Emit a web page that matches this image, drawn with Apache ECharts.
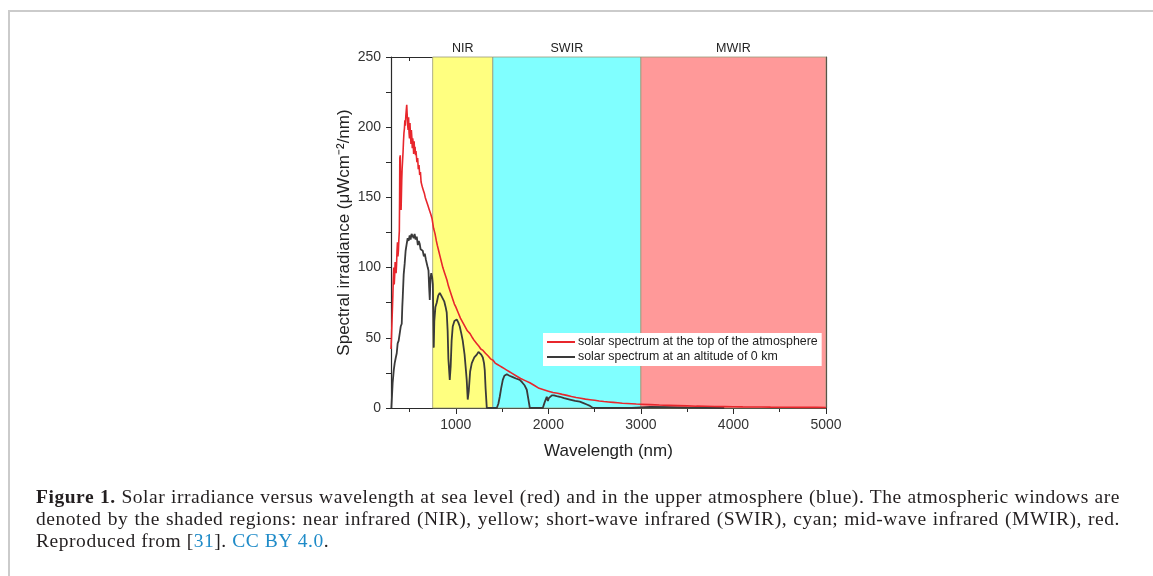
<!DOCTYPE html>
<html>
<head>
<meta charset="utf-8">
<script src="https://cdn.jsdelivr.net/npm/echarts@6/dist/echarts.min.js"></script>
<style>
  html, body { margin: 0; padding: 0; background: #fff; }
  #page { position: relative; width: 1153px; height: 576px; overflow: hidden; }
  #frame { position: absolute; left: 8px; top: 10px; right: -10px; bottom: -10px;
           border-left: 2px solid #cbcbcb; border-top: 2px solid #cbcbcb; }
  #chart { position: absolute; left: 0; top: 0; width: 1153px; height: 576px; }
  #caption { position: absolute; left: 36px; top: 486px; width: 1084px;
             font-family: "Liberation Serif", "DejaVu Serif", serif; font-size: 19.5px;
             letter-spacing: 0.55px; line-height: 22px; color: #231f20; }
  #caption .j { text-align: justify; text-align-last: justify; white-space: nowrap; }
  #caption a { color: #1f8bc8; text-decoration: none; }
</style>
</head>
<body>
<div id="page">
  <div id="frame"></div>
  <div id="chart"></div>
  <div id="caption">
    <div class="j"><b>Figure 1.</b> Solar irradiance versus wavelength at sea level (red) and in the upper atmosphere (blue). The atmospheric windows are</div>
    <div class="j">denoted by the shaded regions: near infrared (NIR), yellow; short-wave infrared (SWIR), cyan; mid-wave infrared (MWIR), red.</div>
    <div>Reproduced from [<a>31</a>]. <a>CC BY 4.0</a>.</div>
  </div>
</div>
<script>
// 波段名称与边界 (nm)
const bandNames = ["NIR", "SWIR", "MWIR"];
const bandEdges = [750, 1400, 3000, 5000];

const seriesNames = [
  "solar spectrum at the top of the atmosphere",
  "solar spectrum at an altitude of 0 km",
];

// 大气层顶太阳光谱 [波长 nm, 辐照度]
const toaSpectrum = [
  [300, 42], [305, 50], [310, 60], [315, 70], [320, 80], [325, 92], [330, 100],
  [335, 88], [340, 95], [345, 104], [350, 105], [355, 96], [360, 102], [365, 112],
  [370, 118], [375, 108], [380, 112], [385, 120], [390, 126], [393, 150], [395, 178],
  [400, 180], [403, 160], [405, 148], [409, 141], [412, 142], [416, 162], [420, 170],
  [425, 176], [430, 182], [435, 190], [440, 196], [445, 199], [450, 205], [455, 201],
  [460, 208], [465, 212], [470, 216], [474, 210], [478, 209], [482, 200], [485, 198],
  [490, 207], [495, 196], [500, 192], [505, 203], [510, 195], [516, 188], [520, 198],
  [525, 193], [530, 185], [535, 192], [540, 188], [545, 181], [550, 190], [555, 182],
  [560, 186], [565, 180], [570, 183], [580, 175], [588, 178], [595, 170], [603, 173],
  [610, 166], [618, 168], [625, 161], [632, 162], [640, 157], [650, 155], [660, 153],
  [670, 150], [680, 149], [690, 146], [700, 144], [710, 142], [720, 140], [730, 138],
  [743, 135], [760, 128], [776, 124], [790, 119], [800, 116], [815, 112], [830, 108],
  [845, 104], [860, 100], [870, 99], [880, 96], [890, 94], [905, 91], [920, 87],
  [940, 83], [955, 80], [970, 77], [985, 74], [1000, 72], [1025, 68], [1050, 64],
  [1075, 61], [1100, 58], [1125, 55], [1154, 53], [1180, 50], [1200, 48], [1225, 46],
  [1250, 44], [1270, 42], [1294, 41], [1320, 39], [1350, 37], [1375, 35], [1403, 34],
  [1425, 32], [1450, 31], [1475, 30], [1500, 29], [1525, 28], [1550, 27], [1575, 26],
  [1600, 25], [1650, 23], [1700, 21], [1750, 19.5], [1800, 18], [1850, 16], [1900, 14],
  [1950, 13], [2000, 12], [2050, 11], [2100, 10.5], [2150, 9.7], [2200, 9], [2250, 8.2],
  [2300, 7.5], [2350, 6.9], [2400, 6.3], [2450, 5.9], [2500, 5.5], [2550, 5], [2600, 4.6],
  [2650, 4.3], [2700, 4], [2750, 3.7], [2800, 3.4], [2850, 3.2], [2900, 3], [2950, 2.8],
  [3000, 2.7], [3100, 2.4], [3200, 2.1], [3300, 1.9], [3400, 1.7], [3500, 1.5],
  [3600, 1.3], [3700, 1.2], [3800, 1.1], [3900, 1], [4000, 0.9], [4100, 0.82],
  [4200, 0.75], [4300, 0.68], [4400, 0.6], [4500, 0.55], [4600, 0.5], [4700, 0.47],
  [4800, 0.45], [4900, 0.42], [5000, 0.4],
];

// 海平面 (0 km) 太阳光谱 [波长 nm, 辐照度]
const seaLevelSpectrum = [
  [304, 0], [318, 18], [330, 27], [340, 32], [352, 36], [362, 39], [372, 46],
  [383, 48], [394, 53], [405, 58], [416, 60], [422, 72], [427, 79], [437, 95],
  [448, 103], [458, 112], [470, 117], [480, 121], [490, 119], [502, 123], [512, 120],
  [522, 124], [535, 125], [545, 121], [555, 124], [566, 120], [578, 122], [590, 116],
  [600, 119], [610, 117], [620, 113], [632, 114], [643, 112], [655, 108], [665, 110],
  [676, 106], [686, 105], [697, 100], [705, 98], [712, 86], [719, 77], [726, 92],
  [735, 96], [745, 93], [752, 88], [756, 70], [762, 43], [768, 62], [780, 72],
  [794, 75], [810, 80], [827, 82], [843, 80], [859, 79], [875, 76], [890, 72],
  [902, 68], [912, 55], [920, 35], [935, 20], [945, 30], [955, 48], [967, 58],
  [985, 62], [1010, 63], [1027, 61], [1043, 58], [1060, 53], [1075, 48], [1095, 38],
  [1108, 28], [1118, 20], [1129, 6], [1140, 12], [1155, 26], [1173, 32], [1200, 36],
  [1227, 38], [1245, 40], [1259, 39], [1275, 38], [1292, 36], [1305, 32], [1313, 27],
  [1322, 14], [1335, 0], [1443, 0], [1460, 3], [1475, 8], [1490, 14], [1508, 20],
  [1525, 23], [1551, 24], [1580, 23], [1616, 22], [1650, 21], [1692, 20], [1720, 18],
  [1745, 16], [1767, 13], [1785, 6], [1800, 0], [1940, 0], [1960, 4], [1983, 8],
  [1995, 5], [2005, 7], [2016, 7], [2038, 9], [2060, 9], [2090, 8.5], [2124, 8],
  [2170, 7], [2232, 6], [2290, 5], [2340, 4.5], [2380, 3.5], [2416, 2.5], [2450, 1.5],
  [2481, 0], [2900, 0], [3000, 0.4], [3100, 0.8], [3300, 0.6], [3500, 0.3],
  [3700, 0.1], [3900, 0],
];

const xMajorTicks = [1000, 2000, 3000, 4000, 5000];
const xMinorTicks = [500, 1500, 2500, 3500, 4500];

const bandColors = ["#ffff80", "#80ffff", "#ff9999"];
const axisColor = "#2a2a2a";
const font = "Liberation Sans, Arial, sans-serif";

const myChart = echarts.init(document.getElementById("chart"));

const baseX = (extra) => Object.assign({
  type: "value",
  min: 300,
  max: 5000,
  splitLine: { show: false },
  axisLine: { show: true, lineStyle: { color: axisColor, width: 1.2 } },
  axisLabel: { show: false },
}, extra);

const baseY = (extra) => Object.assign({
  type: "value",
  min: 0,
  max: 250,
  interval: 50,
  splitLine: { show: false },
  axisLine: { show: true, lineStyle: { color: axisColor, width: 1.2 } },
  minorTick: { show: true, splitNumber: 2, length: 5, lineStyle: { color: axisColor } },
}, extra);

const options = {
  animation: false,
  grid: { left: 391, top: 57, width: 435, height: 351 },
  xAxis: [
    baseX({
      position: "bottom",
      name: "Wavelength (nm)",
      nameLocation: "middle",
      nameGap: 35,
      nameTextStyle: { fontFamily: font, fontSize: 17, color: "#222" },
      axisTick: { show: true, length: 6, customValues: xMajorTicks, lineStyle: { color: axisColor } },
      axisLabel: {
        show: true,
        customValues: xMajorTicks,
        margin: 10,
        fontFamily: font,
        fontSize: 14,
        color: "#333",
        formatter: (v) => String(v),
      },
    }),
    baseX({
      position: "bottom",
      axisLine: { show: false },
      axisTick: { show: true, length: 4, customValues: xMinorTicks, lineStyle: { color: axisColor } },
    }),
    baseX({
      position: "top",
      axisTick: { show: true, inside: true, length: 6, customValues: xMajorTicks, lineStyle: { color: axisColor } },
    }),
    baseX({
      position: "top",
      axisLine: { show: false },
      axisTick: { show: true, inside: true, length: 4, customValues: xMinorTicks, lineStyle: { color: axisColor } },
    }),
  ],
  yAxis: [
    baseY({
      position: "left",
      name: "Spectral irradiance (μWcm⁻²/nm)",
      nameLocation: "middle",
      nameRotate: 90,
      nameGap: 38,
      nameTextStyle: { fontFamily: font, fontSize: 17, color: "#222" },
      axisTick: { show: true, length: 5, lineStyle: { color: axisColor } },
      axisLabel: { margin: 10, fontFamily: font, fontSize: 14, color: "#333" },
    }),
    baseY({
      position: "right",
      axisTick: { show: true, inside: true, length: 5, lineStyle: { color: axisColor } },
      minorTick: { show: true, splitNumber: 2, length: 5, lineStyle: { color: axisColor } },
      axisLabel: { show: false },
    }),
  ],
  legend: {
    orient: "vertical",
    left: 543,
    top: 333,
    padding: [2, 4, 2, 4],
    itemGap: 1,
    itemWidth: 28,
    itemHeight: 2,
    icon: "rect",
    backgroundColor: "#ffffff",
    textStyle: { fontFamily: font, fontSize: 12.4, color: "#222", padding: [0, 0, 0, -2], lineHeight: 14 },
    data: seriesNames,
  },
  series: [
    // 背景波段
    {
      type: "line",
      data: [],
      silent: true,
      z: 1,
      markArea: {
        silent: true,
        itemStyle: { borderColor: "#9a9a7a", borderWidth: 0.8 },
        label: { position: "top", distance: 2, fontFamily: font, fontSize: 12.5, color: "#222" },
        data: bandNames.map((name, i) => [
          { name, xAxis: bandEdges[i], yAxis: 0, itemStyle: { color: bandColors[i] } },
          { xAxis: bandEdges[i + 1], yAxis: 250 },
        ]),
      },
    },
    {
      name: seriesNames[1],
      type: "line",
      data: seaLevelSpectrum,
      symbol: "none",
      z: 3,
      color: "#3a3a3a",
      lineStyle: { width: 1.8, color: "#3a3a3a" },
    },
    {
      name: seriesNames[0],
      type: "line",
      data: toaSpectrum,
      symbol: "none",
      z: 4,
      color: "#e8262c",
      lineStyle: { width: 1.6, color: "#e8262c" },
    },
  ],
};

myChart.setOption(options);
</script>
</body>
</html>
